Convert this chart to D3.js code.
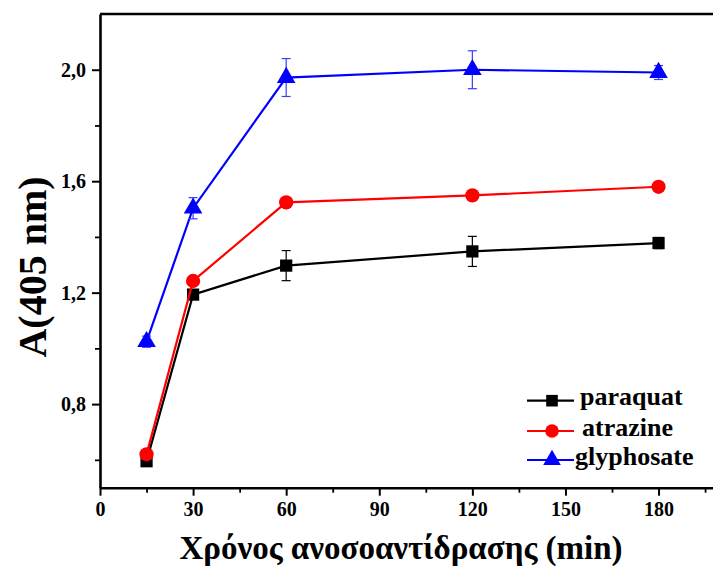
<!DOCTYPE html>
<html>
<head>
<meta charset="utf-8">
<script src="https://cdn.jsdelivr.net/npm/d3@7/dist/d3.min.js"></script>
</head>
<body style="margin:0">
<svg id="chart" width="713" height="567"></svg>
<script>
// Reaction time (min)
const times = [15, 30, 60, 120, 180];

// Absorbance at 405 nm and standard deviations for each herbicide
const paraquat      = [0.595, 1.193, 1.297, 1.348, 1.378];
const paraquatErr   = [0.012, 0.010, 0.054, 0.054, 0.020];
const atrazine      = [0.620, 1.242, 1.524, 1.549, 1.580];
const atrazineErr   = [0.008, 0.008, 0.006, 0.006, 0.006];
const glyphosate    = [1.024, 1.503, 1.972, 2.000, 1.990];
const glyphosateErr = [0.020, 0.038, 0.068, 0.068, 0.025];

const seriesNames = ["paraquat", "atrazine", "glyphosate"];
const xTicks = [0, 30, 60, 90, 120, 150, 180];
const yTicks = [0.8, 1.2, 1.6, 2.0];

const series = [
  { name: seriesNames[0], values: paraquat,   err: paraquatErr,   color: "#000000", errColor: "#000000", symbol: d3.symbolSquare },
  { name: seriesNames[1], values: atrazine,   err: atrazineErr,   color: "#ff0000", errColor: "#ff0000", symbol: d3.symbolCircle },
  { name: seriesNames[2], values: glyphosate, err: glyphosateErr, color: "#0000ff", errColor: "#3b3bff", symbol: d3.symbolTriangle }
];

const styleText = (sel, size) => sel
  .style("font-family", '"Liberation Serif"').style("font-weight", "bold")
  .style("font-size", size + "px").attr("fill", "#000");

const svg = d3.select("#chart");
const plotLeft = 100, plotRight = 720.6, plotTop = 14, plotBottom = 487.7;

const x = d3.scaleLinear().domain([0, 200]).range([plotLeft, plotRight]);
const y = d3.scaleLinear().domain([0.5, 2.2]).range([plotBottom, plotTop]);

const fmt = d => d3.format(".1f")(d).replace(".", ",");

// Minor ticks
const xMinor = d3.range(15, 200, 30);
const yMinor = [0.6, 1.0, 1.4, 1.8];

// Top frame line
svg.append("line")
  .attr("x1", plotLeft).attr("x2", plotRight).attr("y1", plotTop).attr("y2", plotTop)
  .attr("stroke", "#000").attr("stroke-width", 2.6);

// X axis
const xAxis = svg.append("g").attr("transform", `translate(0,${plotBottom})`)
  .call(d3.axisBottom(x).tickValues(xTicks).tickSize(8).tickSizeOuter(0).tickPadding(6).tickFormat(d3.format("d")));
xAxis.attr("font-family", null);
xAxis.select(".domain").attr("stroke-width", 2.6);
xAxis.selectAll(".tick line").attr("stroke-width", 2);
styleText(xAxis.selectAll(".tick text"), 20);
svg.append("g").attr("transform", `translate(0,${plotBottom})`)
  .call(d3.axisBottom(x).tickValues(xMinor).tickSize(5).tickFormat(""))
  .call(g => g.select(".domain").remove())
  .selectAll(".tick line").attr("stroke-width", 1.8);

// Y axis
const yAxis = svg.append("g").attr("transform", `translate(${plotLeft},0)`)
  .call(d3.axisLeft(y).tickValues(yTicks).tickSize(8).tickSizeOuter(0).tickPadding(6).tickFormat(fmt));
yAxis.attr("font-family", null);
yAxis.select(".domain").attr("stroke-width", 2.6);
yAxis.selectAll(".tick line").attr("stroke-width", 2);
styleText(yAxis.selectAll(".tick text"), 20);
svg.append("g").attr("transform", `translate(${plotLeft},0)`)
  .call(d3.axisLeft(y).tickValues(yMinor).tickSize(5).tickFormat(""))
  .call(g => g.select(".domain").remove())
  .selectAll(".tick line").attr("stroke-width", 1.8);

// Axis titles
styleText(svg.append("text"), 33)
  .attr("x", 401).attr("y", 559)
  .attr("text-anchor", "middle")
  .text("Χρόνος ανοσοαντίδρασης (min)");
styleText(svg.append("text"), 40)
  .attr("transform", "translate(46,267) rotate(-90)")
  .attr("text-anchor", "middle")
  .text("A(405 nm)");

const line = d3.line().x((d, i) => x(times[i])).y(d => y(d));
const symbolSize = { [seriesNames[0]]: 150, [seriesNames[1]]: 160, [seriesNames[2]]: 150 };

series.forEach(s => {
  const g = svg.append("g");
  g.append("path").datum(s.values)
    .attr("d", line).attr("fill", "none")
    .attr("stroke", s.color).attr("stroke-width", 2.2);

  // Error bars
  const eb = g.selectAll(".eb").data(s.values).enter().append("g");
  eb.append("line")
    .attr("x1", (d, i) => x(times[i])).attr("x2", (d, i) => x(times[i]))
    .attr("y1", (d, i) => y(d - s.err[i])).attr("y2", (d, i) => y(d + s.err[i]))
    .attr("stroke", s.errColor).attr("stroke-width", 1.2);
  [-1, 1].forEach(sign => {
    eb.append("line")
      .attr("x1", (d, i) => x(times[i]) - 4.5).attr("x2", (d, i) => x(times[i]) + 4.5)
      .attr("y1", (d, i) => y(d + sign * s.err[i])).attr("y2", (d, i) => y(d + sign * s.err[i]))
      .attr("stroke", s.errColor).attr("stroke-width", 1.2);
  });

  g.selectAll(".pt").data(s.values).enter().append("path")
    .attr("transform", (d, i) => `translate(${x(times[i])},${y(d)})`)
    .attr("d", d3.symbol().type(s.symbol).size(symbolSize[s.name]))
    .attr("fill", s.color);
});

// Legend
const legendRows = [400.7, 431, 460];
series.forEach((s, i) => {
  const ly = legendRows[i];
  svg.append("line").attr("x1", 527).attr("x2", 574).attr("y1", ly).attr("y2", ly)
    .attr("stroke", s.color).attr("stroke-width", 2.2);
  svg.append("path").attr("transform", `translate(552,${ly})`)
    .attr("d", d3.symbol().type(s.symbol).size(symbolSize[s.name] * 0.9))
    .attr("fill", s.color);
  styleText(svg.append("text"), 26)
    .attr("x", i === 2 ? 575 : (i === 1 ? 582 : 580)).attr("y", ly + 4.5)
    .text(s.name);
});
</script>
</body>
</html>
